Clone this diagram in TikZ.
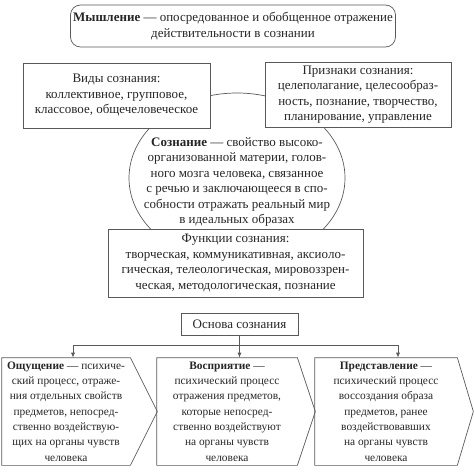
\documentclass[tikz,border=0pt]{standalone}
\usepackage{fontspec}
\setmainfont{Liberation Serif}
\usetikzlibrary{arrows.meta}

\definecolor{linegray}{gray}{0.35}
\definecolor{textgray}{gray}{0.15}

\tikzset{
  txt/.style={align=center, inner sep=0pt, text=textgray,
    font=\fontsize{13}{15.5}\selectfont},
  box/.style={txt, draw=linegray, fill=white},
  proc/.style={txt, minimum height=107pt, font=\fontsize{11.4}{15.3}\selectfont},
  arr/.style={draw=linegray, -{Latex[length=5pt,width=4pt]}},
}

\begin{document}
\begin{tikzpicture}[x=1pt, y=-1pt, line width=0.7pt]
\useasboundingbox (0,0) rectangle (474,473);

% central oval behind the boxes
\draw[linegray] (237,178) ellipse [x radius=108pt, y radius=85pt];

\node[box, rounded corners=10pt, minimum width=325pt, minimum height=42pt] (think) at (233,26)
  {\textbf{Мышление} — опосредованное и обобщенное отражение\\ действительности в сознании};

\node[box, minimum width=187pt, minimum height=65pt] (kinds) at (116.5,95.5)
  {Виды сознания:\\ коллективное, групповое,\\ классовое, общечеловеческое};

\node[box, minimum width=186pt, minimum height=65pt] (signs) at (358,94.5)
  {Признаки сознания:\\ целеполагание, целесообраз-\\ность, познание, творчество,\\ планирование, управление};

\node[txt] (consc) at (237,182)
  {\textbf{Сознание} — свойство высоко-\\организованной материи, голов-\\ного мозга человека, связанное\\ с речью и заключающееся в спо-\\собности отражать реальный мир\\ в идеальных образах};

\node[box, minimum width=255pt, minimum height=68pt] (funcs) at (235.5,263)
  {Функции сознания:\\ творческая, коммуникативная, аксиоло-\\гическая, телеологическая, мировоззрен-\\ческая, методологическая, познание};

\node[box, minimum width=117pt, minimum height=22pt] (base) at (239.5,324) {Основа сознания};

% three processes
\node[proc, minimum width=128pt] (sens) at (66,411.5)
  {\textbf{Ощущение} — психиче-\\ский процесс, отраже-\\ния отдельных свойств\\ предметов, непосред-\\ственно воздействую-\\щих на органы чувств\\ человека};
\node[proc, minimum width=140pt] (perc) at (227,411.5)
  {\textbf{Восприятие} —\\ психический процесс\\ отражения предметов,\\ которые непосред-\\ственно воздействуют\\ на органы чувств\\ человека};
\node[proc, minimum width=142pt] (repr) at (386,411.5)
  {\textbf{Представление} —\\ психический процесс\\ воссоздания образа\\ предметов, ранее\\ воздействовавших\\ на органы чувств\\ человека};

\draw[linegray] (sens.north west) -- (sens.north east) -- ([xshift=27pt]sens.east) -- (sens.south east) -- (sens.south west) -- cycle;
\draw[linegray] (perc.north west) -- (perc.north east) -- ([xshift=18pt]perc.east) -- (perc.south east) -- (perc.south west) -- cycle;
\draw[linegray] (repr.north west) -- (repr.north east) -- ([xshift=16pt]repr.east) -- (repr.south east) -- (repr.south west) -- cycle;

\draw[linegray] (base.south) -- ++(0,10) coordinate (split);
\draw[arr] (split) -| ([xshift=7pt]sens.north);
\draw[arr] (split) -- (split |- perc.north);
\draw[arr] (split) -| ([xshift=12pt]repr.north);

\end{tikzpicture}
\end{document}
